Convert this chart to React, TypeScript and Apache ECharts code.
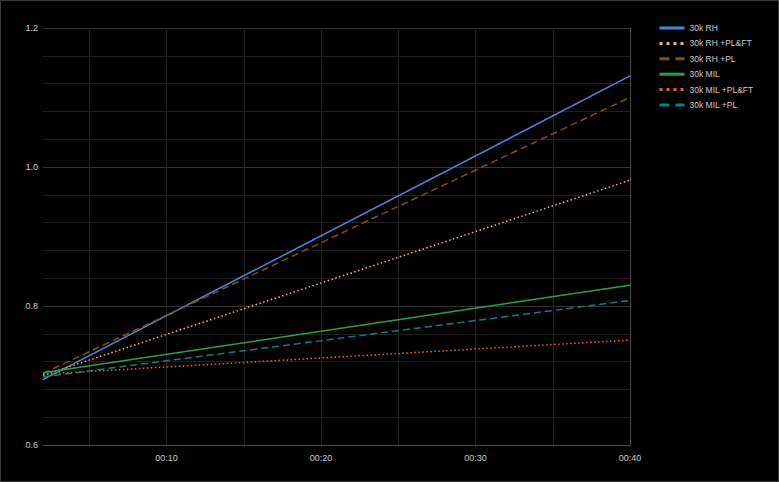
import React, { useEffect, useRef } from "react";
import * as echarts from "echarts";

// Time in minutes
const times = [2, 40];
const seriesNames = ["30k RH", "30k RH +PL&FT", "30k RH +PL", "30k MIL", "30k MIL +PL&FT", "30k MIL +PL"];
const rh = [0.694, 1.131];
const rhPlFt = [0.7, 0.981];
const rhPl = [0.703, 1.1];
const mil = [0.704, 0.83];
const milPlFt = [0.702, 0.751];
const milPl = [0.698, 0.808];
const yTickLabels = ["0.6", "0.8", "1.0", "1.2"];

const colors = ["#4a88e0", "#efb27c", "#8a4c0c", "#2ea043", "#ee6414", "#0e7d88"];
const seriesTypes: any[] = ["solid", [1.5, 2.5], [7, 4], "solid", [1.5, 2.5], [7, 4]];
const legendTypes: any[] = ["solid", [3, 4], [10, 6], "solid", [3, 4], [10, 6]];
const values = [rh, rhPlFt, rhPl, mil, milPlFt, milPl];

export default function App() {
  const ref = useRef<HTMLDivElement>(null);
  useEffect(() => {
    if (!ref.current) return;
    const chart = echarts.init(ref.current, null, { renderer: "svg" });
    const font = "'Liberation Sans', Arial, sans-serif";
    const legendText = { color: "#cccccc", fontSize: 8.5, fontFamily: font };
    chart.setOption({
      animation: false,
      backgroundColor: "#000000",
      textStyle: { fontFamily: font },
      grid: { left: 43, right: 149, top: 28, bottom: 37 },
      legend: {
        orient: "vertical",
        left: 658,
        top: 23.5,
        padding: 0,
        itemWidth: 25,
        itemHeight: 10,
        itemGap: 6.4,
        textStyle: legendText,
        data: seriesNames.map((n, i) => ({
          name: n,
          textStyle: legendText,
          itemStyle: { opacity: 0 },
          lineStyle: { width: 3, type: legendTypes[i], color: colors[i], cap: "butt" },
        })),
      },
      xAxis: {
        type: "value",
        min: times[0],
        max: times[times.length - 1],
        splitNumber: 8,
        axisLine: { show: true, lineStyle: { color: "#4a4a4a" } },
        axisTick: { show: false },
        axisLabel: {
          color: "#cccccc",
          fontSize: 9,
          fontFamily: font,
          margin: 8,
          formatter: (v: number) =>
            Math.abs(v % 10) < 1e-9 && v > 0 ? "00:" + String(Math.round(v)).padStart(2, "0") : "",
        },
        splitLine: { show: true, showMinLine: false, lineStyle: { color: "#222222", width: 1 } },
      },
      yAxis: [
        {
          type: "value",
          min: Number(yTickLabels[0]),
          max: Number(yTickLabels[yTickLabels.length - 1]),
          interval: 0.2,
          axisLine: { show: false },
          axisTick: { show: false },
          axisLabel: {
            color: "#cccccc",
            fontSize: 9,
            fontFamily: font,
            margin: 5,
            formatter: (v: number) => v.toFixed(1),
          },
          splitLine: { show: true, lineStyle: { color: "#333333", width: 1 } },
          minorTick: { show: false, splitNumber: 5 },
          minorSplitLine: { show: true, lineStyle: { color: "#1e1e1e", width: 1 } },
        },
        {
          type: "value",
          position: "right",
          min: Number(yTickLabels[0]),
          max: Number(yTickLabels[yTickLabels.length - 1]),
          axisLine: { show: true, lineStyle: { color: "#4a4a4a" } },
          axisTick: { show: false },
          axisLabel: { show: false },
          splitLine: { show: false },
        },
      ],
      series: seriesNames.map((n, i) => ({
        name: n,
        type: "line",
        yAxisIndex: 0,
        showSymbol: false,
        symbol: "none",
        color: colors[i],
        lineStyle: { width: 1.5, type: seriesTypes[i], color: colors[i] },
        data: times.map((t, j) => [t, values[i][j]]),
      })),
    });
    return () => chart.dispose();
  }, []);
  return (
    <div style={{ position: "fixed", left: 0, top: 0, width: 779, height: 482 }}>
      <div ref={ref} style={{ width: 779, height: 482 }} />
      <div
        style={{
          position: "absolute",
          left: 0,
          top: 0,
          width: 779,
          height: 482,
          boxSizing: "border-box",
          border: "1px solid #3a3a3a",
          pointerEvents: "none",
        }}
      />
    </div>
  );
}
